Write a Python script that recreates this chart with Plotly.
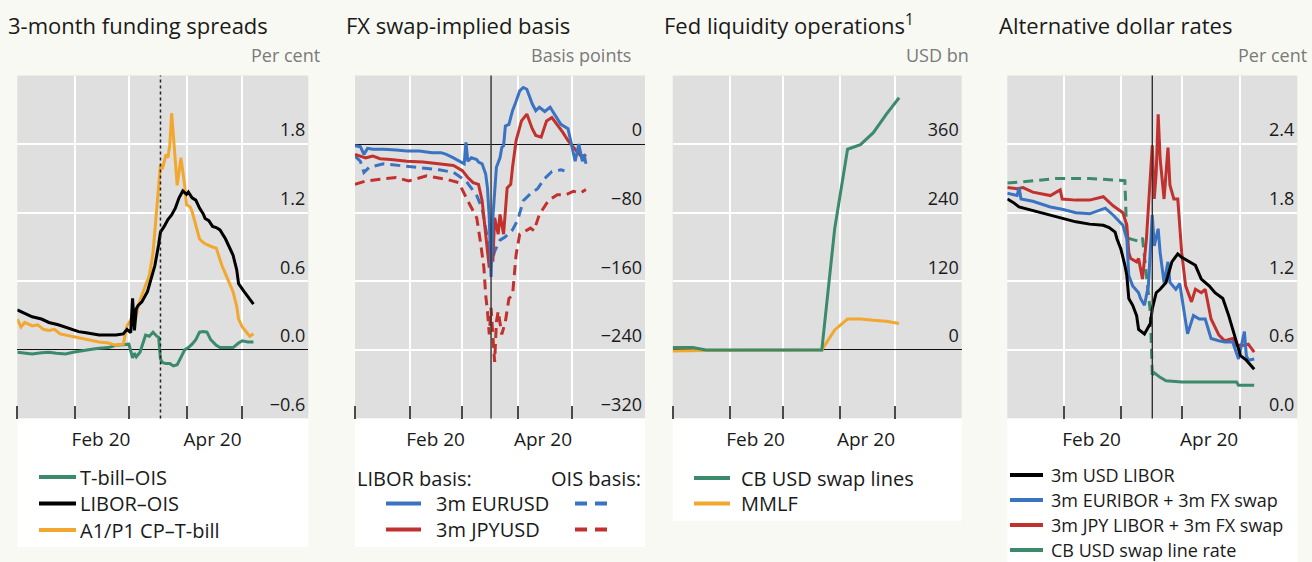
import plotly.graph_objects as go

W, H = 1312, 562
FONT = "Open Sans"

# ---------------- data ----------------
month_ticks = ["2020-02-15", "2020-04-15"]
month_labels = ["Feb 20", "Apr 20"]

# Panel 1: 3-month funding spreads, per cent
p1_libor_dates = ["2020-01-01","2020-01-05","2020-01-09","2020-01-14","2020-01-18","2020-01-23","2020-01-27","2020-01-31",
                  "2020-02-03","2020-02-07","2020-02-10","2020-02-14","2020-02-19","2020-02-23","2020-02-27","2020-02-29",
                  "2020-03-02","2020-03-03","2020-03-04","2020-03-05","2020-03-06","2020-03-08","2020-03-11","2020-03-13",
                  "2020-03-15","2020-03-17","2020-03-18","2020-03-20","2020-03-22","2020-03-24","2020-03-26","2020-03-28",
                  "2020-03-30","2020-04-01","2020-04-02","2020-04-04","2020-04-06","2020-04-08","2020-04-10","2020-04-11",
                  "2020-04-13","2020-04-15","2020-04-17","2020-04-19","2020-04-22","2020-04-24","2020-04-26","2020-04-28",
                  "2020-04-29","2020-05-02","2020-05-04","2020-05-07"]
p1_libor = [0.35,0.32,0.29,0.27,0.24,0.22,0.20,0.18,
            0.16,0.15,0.14,0.13,0.13,0.13,0.14,0.18,
            0.15,0.45,0.17,0.36,0.39,0.42,0.51,0.62,
            0.74,0.92,1.03,1.08,1.14,1.18,1.24,1.33,
            1.39,1.36,1.38,1.33,1.31,1.24,1.19,1.15,
            1.13,1.08,1.07,1.05,0.97,0.90,0.83,0.70,
            0.58,0.51,0.47,0.40]

p1_cp_dates = ["2020-01-01","2020-01-03","2020-01-05","2020-01-09","2020-01-12","2020-01-15","2020-01-18","2020-01-21",
               "2020-01-24","2020-01-27","2020-01-31","2020-02-05","2020-02-09","2020-02-14","2020-02-19","2020-02-23",
               "2020-02-27","2020-02-29","2020-03-02","2020-03-03","2020-03-04","2020-03-06","2020-03-08","2020-03-10",
               "2020-03-12","2020-03-14","2020-03-15","2020-03-17","2020-03-18","2020-03-19","2020-03-21","2020-03-22",
               "2020-03-23","2020-03-24","2020-03-25","2020-03-27","2020-03-29","2020-03-31","2020-04-01","2020-04-03",
               "2020-04-04","2020-04-06","2020-04-08","2020-04-10","2020-04-12","2020-04-15","2020-04-17","2020-04-20",
               "2020-04-23","2020-04-26","2020-04-28","2020-04-29","2020-05-01","2020-05-03","2020-05-05","2020-05-07"]
p1_cp = [0.27,0.20,0.24,0.21,0.22,0.18,0.17,0.18,
         0.14,0.13,0.12,0.10,0.09,0.07,0.06,0.04,
         0.05,0.21,0.26,0.30,0.22,0.38,0.48,0.56,
         0.65,0.85,1.03,1.40,1.62,1.58,1.71,1.68,
         1.79,2.07,1.85,1.44,1.68,1.44,1.27,1.25,
         1.21,1.10,0.97,0.94,0.92,0.90,0.89,0.74,
         0.62,0.51,0.38,0.27,0.20,0.16,0.12,0.14]

p1_tbill_dates = ["2020-01-01","2020-01-05","2020-01-09","2020-01-14","2020-01-18","2020-01-22","2020-01-27","2020-01-31",
                  "2020-02-05","2020-02-10","2020-02-14","2020-02-19","2020-02-23","2020-02-28","2020-03-01","2020-03-03",
                  "2020-03-04","2020-03-05","2020-03-07","2020-03-09","2020-03-10","2020-03-12","2020-03-14","2020-03-16",
                  "2020-03-17","2020-03-18","2020-03-19","2020-03-21","2020-03-23","2020-03-25","2020-03-27","2020-03-29",
                  "2020-03-31","2020-04-02","2020-04-04","2020-04-06","2020-04-08","2020-04-10","2020-04-12","2020-04-14",
                  "2020-04-15","2020-04-17","2020-04-19","2020-04-23","2020-04-26","2020-04-29","2020-05-01","2020-05-04",
                  "2020-05-07"]
p1_tbill = [-0.02,-0.03,-0.035,-0.025,-0.02,-0.03,-0.035,-0.02,
            -0.005,0.005,0.015,0.02,0.04,0.05,0.05,-0.07,
            -0.03,-0.06,-0.02,0.08,0.13,0.12,0.155,0.12,
            0.11,-0.08,-0.11,-0.12,-0.12,-0.14,-0.13,-0.065,
            0.0,0.02,0.05,0.09,0.155,0.16,0.155,0.09,
            0.07,0.04,0.02,0.02,0.02,0.06,0.08,0.07,
            0.07]
p1_event = "2020-03-18"
p1_yticks = [-0.6, 0.0, 0.6, 1.2, 1.8]

# Panel 2: FX swap-implied basis, basis points
p2_eur_libor_dates = ["2020-01-01","2020-01-04","2020-01-06","2020-01-08","2020-01-11","2020-01-17","2020-01-24","2020-01-30",
                      "2020-02-06","2020-02-13","2020-02-18","2020-02-21","2020-02-25","2020-02-28","2020-03-02","2020-03-03",
                      "2020-03-04","2020-03-06","2020-03-09","2020-03-10","2020-03-12","2020-03-14","2020-03-15","2020-03-16",
                      "2020-03-17","2020-03-18","2020-03-19","2020-03-20","2020-03-22","2020-03-23","2020-03-24","2020-03-25",
                      "2020-03-27","2020-03-29","2020-03-31","2020-04-02","2020-04-04","2020-04-06","2020-04-09","2020-04-11",
                      "2020-04-13","2020-04-16","2020-04-19","2020-04-22","2020-04-25","2020-04-29","2020-05-01","2020-05-03",
                      "2020-05-05","2020-05-07","2020-05-08","2020-05-09"]
p2_eur_libor = [-2,-3,-12,-5,-6,-6,-7,-8,
                -8,-10,-10,-12,-16,-20,-23,2,
                -20,-16,-18,-21,-23,-35,-51,-86,
                -155,-86,-55,-27,-16,-4,-2,21,
                23,39,50,62,66,64,47,39,
                43,38,43,33,23,18,0,-20,
                0,-20,-12,-23]
p2_jpy_libor_dates = ["2020-01-01","2020-01-04","2020-01-07","2020-01-11","2020-01-15","2020-01-21","2020-01-30","2020-02-08",
                      "2020-02-17","2020-02-25","2020-03-01","2020-03-04","2020-03-07","2020-03-10","2020-03-12","2020-03-14",
                      "2020-03-16","2020-03-17","2020-03-18","2020-03-19","2020-03-21","2020-03-22","2020-03-24","2020-03-26",
                      "2020-03-28","2020-03-29","2020-03-31","2020-04-03","2020-04-06","2020-04-09","2020-04-11","2020-04-14",
                      "2020-04-17","2020-04-20","2020-04-23","2020-04-26","2020-04-29","2020-05-02","2020-05-05","2020-05-07",
                      "2020-05-09"]
p2_jpy_libor = [-12,-14,-16,-14,-17,-18,-20,-21,
                -23,-25,-31,-39,-45,-47,-66,-105,
                -144,-101,-137,-86,-105,-82,-105,-51,
                -47,-27,4,27,35,18,10,8,
                27,31,23,14,4,-4,-12,-16,
                -12]
p2_eur_ois_dates = ["2020-01-01","2020-01-04","2020-01-06","2020-01-09","2020-01-17","2020-01-26","2020-02-08","2020-02-17",
                    "2020-02-25","2020-03-03","2020-03-09","2020-03-12","2020-03-15","2020-03-17","2020-03-19","2020-03-22",
                    "2020-03-25","2020-03-29","2020-04-01","2020-04-04","2020-04-08","2020-04-12","2020-04-16","2020-04-20",
                    "2020-04-25","2020-04-27"]
p2_eur_ois = [-14,-20,-33,-27,-23,-25,-28,-30,
              -33,-43,-60,-75,-110,-140,-125,-112,
              -108,-100,-88,-66,-58,-52,-40,-32,
              -30,-31]
p2_jpy_ois_dates = ["2020-01-01","2020-01-07","2020-01-15","2020-01-24","2020-01-31","2020-02-10","2020-02-21","2020-02-28",
                    "2020-03-04","2020-03-09","2020-03-11","2020-03-13","2020-03-14","2020-03-15","2020-03-16","2020-03-17",
                    "2020-03-19","2020-03-20","2020-03-21","2020-03-23","2020-03-25","2020-03-27","2020-03-29","2020-03-31",
                    "2020-04-02","2020-04-05","2020-04-08","2020-04-10","2020-04-13","2020-04-18","2020-04-23","2020-04-28",
                    "2020-05-02","2020-05-06","2020-05-09"]
p2_jpy_ois = [-47,-43,-41,-39,-43,-37,-41,-45,
              -66,-86,-113,-144,-176,-195,-222,-191,
              -254,-207,-195,-222,-207,-180,-176,-129,
              -105,-101,-98,-101,-82,-66,-59,-59,
              -55,-57,-53]
p2_event = "2020-03-17"
p2_yticks = [-320, -240, -160, -80, 0]

# Panel 3: Fed liquidity operations, USD bn (weekly)
p3_swap_dates = ["2020-01-01","2020-01-12","2020-01-19","2020-03-22","2020-03-29","2020-04-05","2020-04-12","2020-04-19",
                 "2020-04-26","2020-05-03"]
p3_swap = [4, 4, 0, 0, 212, 351, 359, 380, 412, 441]
p3_mmlf_dates = ["2020-01-01","2020-01-19","2020-03-22","2020-03-29","2020-04-05","2020-04-12","2020-04-19","2020-04-26",
                 "2020-05-03"]
p3_mmlf = [-2, -1, 0, 35, 54, 54, 52, 50, 46]
p3_yticks = [0, 120, 240, 360]

# Panel 4: Alternative dollar rates, per cent
p4_libor_dates = ["2020-01-03","2020-01-06","2020-01-09","2020-01-16","2020-01-25","2020-01-31","2020-02-07","2020-02-14",
                  "2020-02-21","2020-02-24","2020-02-27","2020-02-28","2020-03-01","2020-03-03","2020-03-04","2020-03-05",
                  "2020-03-07","2020-03-09","2020-03-10","2020-03-13","2020-03-16","2020-03-17","2020-03-19","2020-03-21",
                  "2020-03-24","2020-03-27","2020-03-30","2020-04-01","2020-04-05","2020-04-08","2020-04-11","2020-04-15",
                  "2020-04-18","2020-04-22","2020-04-25","2020-04-28","2020-05-01","2020-05-04","2020-05-08"]
p4_libor = [1.92,1.89,1.85,1.82,1.78,1.75,1.72,1.70,
            1.69,1.67,1.63,1.57,1.48,1.34,1.25,1.05,
            0.99,0.90,0.78,0.74,0.83,0.96,1.10,1.13,
            1.19,1.37,1.44,1.41,1.37,1.34,1.22,1.16,
            1.10,1.05,0.90,0.73,0.55,0.51,0.43]
p4_eur_dates = ["2020-01-03","2020-01-08","2020-01-09","2020-01-10","2020-01-16","2020-01-25","2020-01-31","2020-02-07",
                "2020-02-14","2020-02-21","2020-02-22","2020-02-26","2020-03-02","2020-03-04","2020-03-05","2020-03-07",
                "2020-03-10","2020-03-11","2020-03-13","2020-03-15","2020-03-16","2020-03-17","2020-03-18","2020-03-20",
                "2020-03-21","2020-03-23","2020-03-25","2020-03-26","2020-03-29","2020-03-31","2020-04-02","2020-04-04",
                "2020-04-07","2020-04-10","2020-04-13","2020-04-16","2020-04-20","2020-04-23","2020-04-27","2020-04-30",
                "2020-05-03","2020-05-04","2020-05-05","2020-05-08"]
p4_eur = [1.97,1.95,2.02,1.92,1.90,1.85,1.83,1.80,
          1.79,1.83,1.84,1.78,1.69,1.57,1.25,1.16,
          1.10,1.05,0.99,1.16,1.45,1.78,1.51,1.66,
          1.45,1.19,1.37,1.19,1.13,1.18,0.96,0.74,
          0.90,0.87,0.87,0.70,0.68,0.67,0.67,0.52,
          0.76,0.55,0.51,0.52]
p4_jpy_dates = ["2020-01-03","2020-01-08","2020-01-11","2020-01-16","2020-01-25","2020-01-30","2020-01-31","2020-02-07",
                "2020-02-14","2020-02-21","2020-02-26","2020-03-02","2020-03-04","2020-03-05","2020-03-06","2020-03-09",
                "2020-03-10","2020-03-12","2020-03-14","2020-03-16","2020-03-17","2020-03-18","2020-03-19","2020-03-20",
                "2020-03-21","2020-03-23","2020-03-25","2020-03-26","2020-03-28","2020-03-30","2020-04-01","2020-04-03",
                "2020-04-06","2020-04-08","2020-04-11","2020-04-13","2020-04-16","2020-04-20","2020-04-23","2020-04-27",
                "2020-04-29","2020-05-03","2020-05-05","2020-05-08"]
p4_jpy = [2.02,2.01,2.02,1.98,1.95,2.00,1.92,1.91,
          1.91,1.94,1.86,1.80,1.69,1.45,1.40,1.37,
          1.40,1.22,1.57,2.15,2.39,1.92,2.15,2.66,
          2.27,1.92,2.37,2.04,1.92,1.92,1.45,1.16,
          1.02,1.13,1.10,1.13,0.87,0.73,0.68,0.70,
          0.64,0.64,0.65,0.58]
p4_swaprate_pre_dates = ["2020-01-03","2020-01-11","2020-01-28","2020-02-14","2020-03-03","2020-03-04","2020-03-10",
                         "2020-03-12","2020-03-16","2020-03-17"]
p4_swaprate_pre = [2.06, 2.07, 2.10, 2.10, 2.08, 1.58, 1.55, 1.58, 0.93, 0.38]
p4_swaprate_dates = ["2020-03-17","2020-03-18","2020-03-21","2020-03-24","2020-04-01","2020-04-15","2020-04-29",
                     "2020-04-30","2020-05-08"]
p4_swaprate = [0.38, 0.40, 0.36, 0.33, 0.32, 0.32, 0.32, 0.29, 0.29]
p4_event = "2020-03-17"
p4_yticks = [0.0, 0.6, 1.2, 1.8, 2.4]

# ---------------- style ----------------
GREEN = "#3b8a6b"
ORANGE = "#f2a72e"
BLACK = "#000000"
BLUE = "#3a73c2"
RED = "#c1312e"
PLOT_BG = "#dfdfdf"
PAGE_BG = "#f9f9f3"
TXT = "#1a1a1a"
UNIT = "#7a7a7a"

Y_TOP, Y_BOT = 75.5, 418.5
ydom = [(H - Y_BOT) / H, (H - Y_TOP) / H]

panels = [
    dict(ax="", x0=17.3, x1=308.3, xr=["2020-01-01", "2020-06-05 12:00"], yr=[-0.6, 2.4], tv=p1_yticks, fmt=".1f", zero=True),
    dict(ax="2", x0=355.0, x1=645.0, xr=["2020-01-01", "2020-06-11"], yr=[-320, 80], tv=p2_yticks, fmt="d", zero=True),
    dict(ax="3", x0=672.7, x1=961.7, xr=["2020-01-01", "2020-06-06"], yr=[-120, 480], tv=p3_yticks, fmt="d", zero=True),
    dict(ax="4", x0=1007.3, x1=1297.3, xr=["2020-01-03", "2020-05-30"], yr=[0, 3.0], tv=p4_yticks, fmt=".1f", zero=False),
]

fig = go.Figure()


def add_line(x, y, color, ax, dash="solid", width=3):
    fig.add_trace(go.Scatter(x=x, y=y, mode="lines",
                             line=dict(color=color, width=width, dash=dash),
                             xaxis="x" + ax, yaxis="y" + ax,
                             showlegend=False, hoverinfo="skip"))


# panel 1
add_line(p1_tbill_dates, p1_tbill, GREEN, "")
add_line(p1_cp_dates, p1_cp, ORANGE, "")
add_line(p1_libor_dates, p1_libor, BLACK, "")
# panel 2
add_line(p2_eur_ois_dates, p2_eur_ois, BLUE, "2", dash="10px,6px")
add_line(p2_jpy_ois_dates, p2_jpy_ois, RED, "2", dash="10px,6px")
add_line(p2_jpy_libor_dates, p2_jpy_libor, RED, "2")
add_line(p2_eur_libor_dates, p2_eur_libor, BLUE, "2")
# panel 3
add_line(p3_mmlf_dates, p3_mmlf, ORANGE, "3")
add_line(p3_swap_dates, p3_swap, GREEN, "3")
# panel 4
add_line(p4_swaprate_pre_dates, p4_swaprate_pre, GREEN, "4", dash="10px,6px")
add_line(p4_swaprate_dates, p4_swaprate, GREEN, "4")
add_line(p4_jpy_dates, p4_jpy, RED, "4")
add_line(p4_eur_dates, p4_eur, BLUE, "4")
add_line(p4_libor_dates, p4_libor, BLACK, "4")

layout = {}
shapes = []
annotations = []
for p in panels:
    ax = p["ax"]
    layout["xaxis" + ax] = dict(
        type="date", domain=[p["x0"] / W, p["x1"] / W], range=p["xr"], anchor="y" + ax,
        tickmode="array", tickvals=month_ticks, ticktext=month_labels,
        ticks="", showgrid=False, zeroline=False, showline=False, ticklabelstandoff=7,
        tickfont=dict(family=FONT, size=19, color=TXT),
        minor=dict(tickmode="linear", dtick="M1", tick0="2020-01-01", ticks="inside", ticklen=13,
                   tickwidth=1.5, tickcolor="#4a4a4a", showgrid=True, gridcolor="white", gridwidth=1.5),
        fixedrange=True,
    )
    layout["yaxis" + ax] = dict(
        domain=ydom, range=p["yr"], anchor="x" + ax, side="right",
        ticklabelposition="inside", tickmode="array", tickvals=p["tv"], tickformat=p["fmt"],
        ticks="", showgrid=True, gridcolor="white", gridwidth=1.5,
        zeroline=p["zero"], zerolinecolor="#111111", zerolinewidth=1.2,
        showline=False, ticklabelshift=-14,
        tickfont=dict(family=FONT, size=18, color=TXT), fixedrange=True,
    )

# white legend panels beneath plots
for (x0, x1, yb) in [(17.3, 308.3, 547), (355.0, 645.0, 547), (672.7, 961.7, 521), (1007.3, 1297.3, 562)]:
    shapes.append(dict(type="rect", xref="paper", yref="paper", x0=x0 / W, x1=x1 / W,
                       y0=(H - yb) / H, y1=(H - Y_BOT) / H, fillcolor="white", line=dict(width=0), layer="below"))

# event lines
shapes.append(dict(type="line", xref="x", yref="y domain", x0=p1_event, x1=p1_event, y0=0, y1=1,
                   line=dict(color="#222222", width=1.5, dash="3px,3px")))
shapes.append(dict(type="line", xref="x2", yref="y2 domain", x0=p2_event, x1=p2_event, y0=0, y1=1,
                   line=dict(color="#333333", width=1.4)))
shapes.append(dict(type="line", xref="x4", yref="y4 domain", x0=p4_event, x1=p4_event, y0=0, y1=1,
                   line=dict(color="#333333", width=1.4)))


def ann(text, x, y, size, color=TXT, xanchor="left"):
    annotations.append(dict(text=text, x=x / W, y=(H - y) / H, xref="paper", yref="paper",
                            xanchor=xanchor, yanchor="middle", showarrow=False,
                            font=dict(family=FONT, size=size, color=color)))


def leg_line(x0, x1, y, color, dash="solid", width=4):
    shapes.append(dict(type="line", xref="paper", yref="paper", x0=x0 / W, x1=x1 / W,
                       y0=(H - y) / H, y1=(H - y) / H, line=dict(color=color, width=width, dash=dash)))


# titles
ann("3-month funding spreads", 6, 24.5, 22)
ann("FX swap-implied basis", 344, 24.5, 22)
ann("Fed liquidity operations<sup>1</sup>", 662, 24.5, 22)
ann("Alternative dollar rates", 997, 24.5, 22)
# units
ann("Per cent", 322, 55, 18, UNIT, "right")
ann("Basis points", 633, 55, 18, UNIT, "right")
ann("USD bn", 971, 55, 18, UNIT, "right")
ann("Per cent", 1309, 55, 18, UNIT, "right")

# legend panel 1
for i, (name, col) in enumerate([("T-bill–OIS", GREEN), ("LIBOR–OIS", BLACK), ("A1/P1 CP–T-bill", ORANGE)]):
    y = 477 + i * 26.5
    leg_line(39, 76, y, col)
    ann(name, 78, y, 20)

# legend panel 2
ann("LIBOR basis:", 355, 478, 20)
ann("OIS basis:", 643, 478, 20, xanchor="right")
for i, (name, col) in enumerate([("3m EURUSD", BLUE), ("3m JPYUSD", RED)]):
    y = 503.5 + i * 26
    leg_line(386, 421, y, col)
    ann(name, 434, y, 20)
    leg_line(575, 613, y, col, dash="12px,8px")

# legend panel 3
for i, (name, col) in enumerate([("CB USD swap lines", GREEN), ("MMLF", ORANGE)]):
    y = 478 + i * 25.5
    leg_line(694, 730, y, col)
    ann(name, 739, y, 20)

# legend panel 4
for i, (name, col) in enumerate([("3m USD LIBOR", BLACK), ("3m EURIBOR + 3m FX swap", BLUE),
                                 ("3m JPY LIBOR + 3m FX swap", RED), ("CB USD swap line rate", GREEN)]):
    y = 475 + i * 25
    leg_line(1010, 1043, y, col)
    ann(name, 1049, y, 18)

fig.update_layout(
    width=W, height=H, margin=dict(l=0, r=0, t=0, b=0), autosize=False,
    paper_bgcolor=PAGE_BG, plot_bgcolor=PLOT_BG,
    font=dict(family=FONT, color=TXT), showlegend=False,
    shapes=shapes, annotations=annotations, **layout,
)

fig.write_html("out.html", config={"displayModeBar": False},
               post_script="document.body.style.margin='0px';document.body.style.overflow='hidden';")
